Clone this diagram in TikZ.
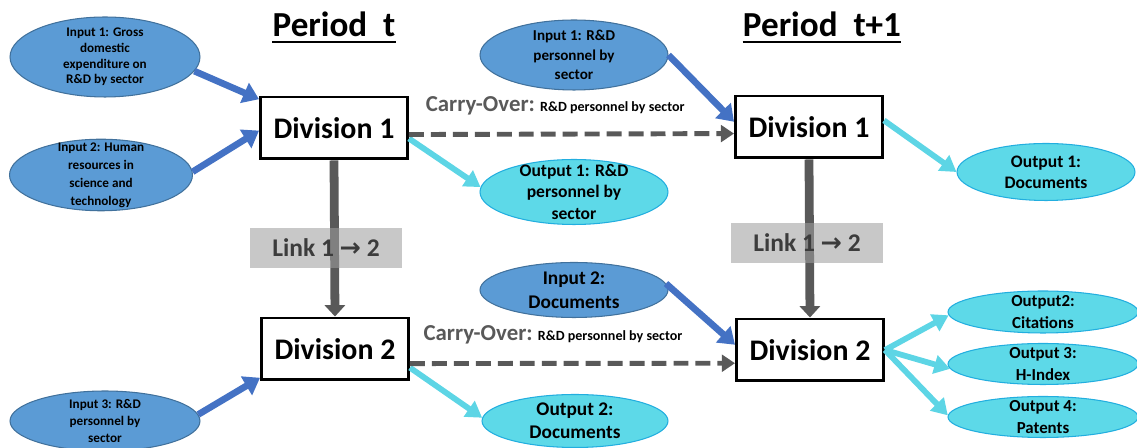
\documentclass[tikz,border=0pt]{standalone}
\usepackage{fontspec}
\setmainfont{Carlito}
\newfontfamily\arrowfont{DejaVu Sans}
\usetikzlibrary{shapes.geometric,arrows.meta}
\definecolor{inblue}{HTML}{5B9BD5}
\definecolor{inedge}{HTML}{41719C}
\definecolor{arrblue}{HTML}{4472C4}
\definecolor{outcyan}{HTML}{5DD9E8}
\definecolor{outedge}{HTML}{22AEDF}
\definecolor{arrcyan}{HTML}{5DD5E5}
\definecolor{darkgrey}{HTML}{595959}
\definecolor{linkgrey}{HTML}{9E9E9E}
\definecolor{linktext}{HTML}{3C3C3C}
\tikzset{
  division/.style={draw, line width=1.7pt, fill=white, inner sep=0pt,
    minimum width=2.94cm, minimum height=1.24cm,
    font=\bfseries\fontsize{17}{20}\selectfont},
  input/.style={ellipse, draw=inedge, fill=inblue, line width=0.6pt,
    inner xsep=0pt, inner ysep=-4pt, align=center},
  output/.style={ellipse, draw=outedge, fill=outcyan, line width=0.6pt,
    inner xsep=0pt, inner ysep=-4pt, align=center},
  link/.style={preaction={fill=linkgrey, fill opacity=0.57}, text=linktext,
    minimum width=3.06cm, minimum height=0.8cm,
    font=\bfseries\fontsize{14.5}{17}\selectfont},
  period/.style={inner sep=0pt, font=\bfseries\fontsize{20}{24}\selectfont},
  feed/.style={arrblue, line width=3.8pt, -{Triangle[width=12pt,length=9pt]}},
  yield/.style={arrcyan, line width=3.3pt, -{Triangle[width=10.5pt,length=9pt]}},
  carry/.style={darkgrey, line width=2.8pt, dash pattern=on 8.5pt off 4pt,
    -{Triangle[width=9.5pt,length=7.5pt]}},
  pass/.style={darkgrey, line width=5pt, -{Triangle[width=11.5pt,length=6.5pt]}}
}
\begin{document}
\begin{tikzpicture}[x=0.02cm, y=-0.02cm]
  \useasboundingbox (0,0) rectangle (1137,448);

  \node[period] (pt)  at (334,24) {Period~~t};
  \node[period] (pt1) at (822,24) {Period~~t+1};
  \draw[line width=1.6pt] ([yshift=-3pt]pt.south west) -- ([yshift=-3pt]pt.south east);
  \draw[line width=1.6pt] ([yshift=-3pt]pt1.south west) -- ([yshift=-3pt]pt1.south east);

  \node[division] (div1L) at (334,128) {Division 1};
  \node[division] (div2L) at (335,349) {Division 2};
  \node[division] (div1R) at (809,127) {Division 1};
  \node[division] (div2R) at (810,350) {Division 2};

  \node[input, minimum width=3.8cm, minimum height=1.6cm,
        font=\bfseries\fontsize{7.5}{8.9}\selectfont] (in1L) at (105,57)
        {Input 1: Gross\\domestic\\expenditure on\\R\&D by sector};
  \node[input, minimum width=3.66cm, minimum height=1.4cm,
        font=\bfseries\fontsize{7.5}{10.2}\selectfont] (in2L) at (101,175)
        {Input 2: Human\\resources in\\science and\\technology};
  \node[input, minimum width=3.8cm, minimum height=1.2cm,
        font=\bfseries\fontsize{7.5}{9.6}\selectfont] (in3L) at (105,421)
        {Input 3: R\&D\\personnel by\\sector};
  \node[input, minimum width=3.76cm, minimum height=1.4cm,
        font=\bfseries\fontsize{8.6}{11}\selectfont] (inAM) at (574,55)
        {Input 1: R\&D\\personnel by\\sector};
  \node[input, minimum width=3.76cm, minimum height=1.1cm,
        font=\bfseries\fontsize{11}{13.6}\selectfont] (inBM) at (574,290)
        {Input 2:\\Documents};

  \node[output, minimum width=3.76cm, minimum height=1.3cm,
        font=\bfseries\fontsize{10}{12.5}\selectfont] (outAM) at (574,192)
        {Output 1: R\&D\\personnel by\\sector};
  \node[output, minimum width=3.72cm, minimum height=1.06cm,
        font=\bfseries\fontsize{11}{13}\selectfont] (outBM) at (575,421)
        {Output 2:\\Documents};
  \node[output, minimum width=3.56cm, minimum height=1.14cm,
        font=\bfseries\fontsize{10}{12}\selectfont] (outAR) at (1046,172)
        {Output 1:\\Documents};
  \node[output, minimum width=3.8cm, minimum height=0.84cm,
        font=\bfseries\fontsize{9.6}{12.4}\selectfont] (out2R) at (1043,312)
        {Output2:\\Citations};
  \node[output, minimum width=3.8cm, minimum height=0.82cm,
        font=\bfseries\fontsize{9.6}{12.4}\selectfont] (out3R) at (1043,364)
        {Output 3:\\H-Index};
  \node[output, minimum width=3.8cm, minimum height=0.82cm,
        font=\bfseries\fontsize{9.6}{12.4}\selectfont] (out4R) at (1043,417)
        {Output 4:\\Patents};

  \path[feed]
    (in1L.-9) edge (div1L.159)
    (in2L.2)  edge (div1L.182)
    (in3L.4)  edge (div2L.201)
    (inAM.east) edge (div1R.176)
    (inBM.4)  edge (div2R.176);

  \path[yield]
    (div1L.-8)  edge (outAM.177)
    (div2L.-14) edge (outBM.178)
    (div1R.5)   edge (outAR.west)
    (div2R.east) edge (out2R.182)
    (div2R.east) edge (out3R.183)
    (div2R.east) edge (out4R.179);

  \path[carry]
    (div1L.-5) edge node[above=6pt, pos=0.45, text=black]
      {\textcolor{darkgrey}{\bfseries\fontsize{13}{15}\selectfont Carry-Over:}
       {\bfseries\fontsize{8}{10}\selectfont R\&D personnel by sector}} (div1R.185)
    (div2L.-11) edge node[above=6pt, pos=0.44, text=black]
      {\textcolor{darkgrey}{\bfseries\fontsize{13}{15}\selectfont Carry-Over:}
       {\bfseries\fontsize{8}{10}\selectfont R\&D personnel by sector}} (div2R.190);

  \path[pass]
    (div1L.south) edge (div2L.north)
    (div1R.south) edge (div2R.north);

  \node[link] (link1) at (326,248) {Link 1 {\arrowfont\bfseries →} 2};
  \node[link] (link2) at (807,243) {Link 1 {\arrowfont\bfseries →} 2};
\end{tikzpicture}
\end{document}
